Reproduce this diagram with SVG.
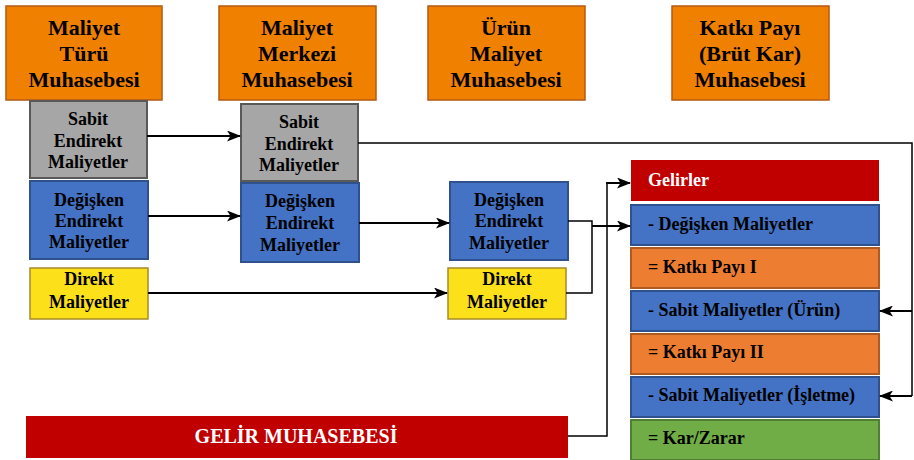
<svg xmlns="http://www.w3.org/2000/svg" width="914" height="460" viewBox="0 0 914 460">
<style>
text{font-family:"Liberation Serif","Times New Roman",serif;font-weight:bold;fill:#000}
.h{font-size:22px;text-anchor:middle}
.b{font-size:18px;text-anchor:middle}
.l{font-size:18px}
.w{fill:#fff}
.hdr{fill:#F08000;stroke:#B55A10;stroke-width:1.5}
.gry{fill:#A6A6A6;stroke:#595959;stroke-width:2}
.blu{fill:#4472C4;stroke:#2F528F;stroke-width:2}
.yel{fill:#FBE01A;stroke:#A68A2A;stroke-width:1.5}
.red{fill:#C00000}
.org{fill:#ED7D31;stroke:#AE5A21;stroke-width:2}
.grn{fill:#70AD47;stroke:#507E32;stroke-width:2}
.c{fill:none;stroke:#000;stroke-width:2}
.t{fill:none;stroke:#000;stroke-width:1.5}
</style>
<defs>
<marker id="ah" viewBox="0 0 14 11" refX="13" refY="5.5" markerWidth="14" markerHeight="11" markerUnits="userSpaceOnUse" orient="auto">
<path d="M0,0 L14,5.5 L0,11 L3.5,5.5 Z" fill="#000"/>
</marker>
</defs>

<g id="h1"><rect class="hdr" x="6" y="6" width="156" height="94"/><text class="h" x="84" y="35">Maliyet</text><text class="h" x="84" y="61">Türü</text><text class="h" x="84" y="87">Muhasebesi</text></g>
<g id="h2"><rect class="hdr" x="219" y="6" width="157" height="94"/><text class="h" x="297" y="35">Maliyet</text><text class="h" x="297" y="61">Merkezi</text><text class="h" x="297" y="87">Muhasebesi</text></g>
<g id="h3"><rect class="hdr" x="428" y="6" width="157" height="94"/><text class="h" x="506" y="35">Ürün</text><text class="h" x="506" y="61">Maliyet</text><text class="h" x="506" y="87">Muhasebesi</text></g>
<g id="h4"><rect class="hdr" x="672" y="6" width="157" height="94"/><text class="h" x="750" y="35">Katkı Payı</text><text class="h" x="750" y="61">(Brüt Kar)</text><text class="h" x="750" y="87">Muhasebesi</text></g>

<g id="g1"><rect class="gry" x="30" y="101" width="117" height="77"/><text class="b" x="88" y="125">Sabit</text><text class="b" x="88" y="147">Endirekt</text><text class="b" x="88" y="168">Maliyetler</text></g>
<g id="g2"><rect class="gry" x="241" y="104" width="117" height="77"/><text class="b" x="299" y="128">Sabit</text><text class="b" x="299" y="150">Endirekt</text><text class="b" x="299" y="171">Maliyetler</text></g>

<g id="b1"><rect class="blu" x="30" y="181" width="118" height="78"/><text class="b" x="89" y="206">Değişken</text><text class="b" x="89" y="227">Endirekt</text><text class="b" x="89" y="248">Maliyetler</text></g>
<g id="b2"><rect class="blu" x="241" y="183" width="118" height="79"/><text class="b" x="300" y="207">Değişken</text><text class="b" x="300" y="229">Endirekt</text><text class="b" x="300" y="251">Maliyetler</text></g>
<g id="b3"><rect class="blu" x="450" y="182" width="118" height="78"/><text class="b" x="509" y="206">Değişken</text><text class="b" x="509" y="227">Endirekt</text><text class="b" x="509" y="249">Maliyetler</text></g>

<g id="y1"><rect class="yel" x="30" y="268" width="118" height="51"/><text class="b" x="89" y="285">Direkt</text><text class="b" x="89" y="308">Maliyetler</text></g>
<g id="y2"><rect class="yel" x="448" y="268" width="118" height="51"/><text class="b" x="507" y="285">Direkt</text><text class="b" x="507" y="308">Maliyetler</text></g>

<g id="l1"><rect class="red" x="631" y="160" width="248" height="41"/><text class="l w" x="648" y="186">Gelirler</text></g>
<g id="l2"><rect class="blu" x="631" y="205" width="248" height="40"/><text class="l" x="648" y="230">- Değişken Maliyetler</text></g>
<g id="l3"><rect class="org" x="631" y="248" width="248" height="40"/><text class="l" x="648" y="273">= Katkı Payı I</text></g>
<g id="l4"><rect class="blu" x="631" y="291" width="248" height="40"/><text class="l" x="648" y="316">- Sabit Maliyetler (Ürün)</text></g>
<g id="l5"><rect class="org" x="631" y="334" width="248" height="40"/><text class="l" x="648" y="358">= Katkı Payı II</text></g>
<g id="l6"><rect class="blu" x="631" y="377" width="248" height="40"/><text class="l" x="648" y="401">- Sabit Maliyetler (İşletme)</text></g>
<g id="l7"><rect class="grn" x="631" y="420" width="248" height="40"/><text class="l" x="648" y="444">= Kar/Zarar</text></g>

<g id="gm"><rect class="red" x="26" y="416" width="542" height="42"/><text class="b w" x="296" y="443" style="font-size:20px">GELİR MUHASEBESİ</text></g>

<g id="connectors">
<path class="c" d="M147,136 H240" marker-end="url(#ah)"/>
<path class="c" d="M148,216 H240" marker-end="url(#ah)"/>
<path class="c" d="M359,223 H449" marker-end="url(#ah)"/>
<path class="c" d="M148,293 H447" marker-end="url(#ah)"/>
<path class="t" d="M568,221 H592 V293 H566"/>
<path class="c" d="M592,226 H630" marker-end="url(#ah)"/>
<path class="t" d="M568,436 H607 V183"/>
<path class="c" d="M606,183 H630" marker-end="url(#ah)"/>
<path class="t" d="M358,143 H912 V396"/>
<path class="c" d="M912,311 H880" marker-end="url(#ah)"/>
<path class="c" d="M912,396 H880" marker-end="url(#ah)"/>
</g>
</svg>
